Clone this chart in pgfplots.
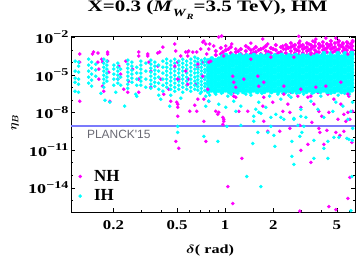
\documentclass[border=0pt]{standalone}
\usepackage{fontspec}
\setmainfont{Liberation Serif}
\newfontfamily\planckfont{Liberation Sans}
\usepackage{graphicx}
\usepackage{pgfplots}
\pgfplotsset{compat=1.18}
\definecolor{nh}{RGB}{255,0,255}
\definecolor{ih}{RGB}{0,255,255}
\definecolor{planck}{RGB}{122,122,252}
\definecolor{planckgray}{RGB}{105,105,115}
\newcommand{\tl}[1]{\scalebox{1.35}[1]{10\raisebox{0.42em}{\fontsize{10.5}{10}\selectfont #1}}}
\newcommand{\xl}[1]{\scalebox{1.25}[1]{#1}}
\begin{document}
\begin{tikzpicture}
\useasboundingbox (-71bp,-49bp) rectangle (289bp,212bp);
\begin{axis}[
  at={(0,0)}, anchor=south west,
  scale only axis, width=284bp, height=176bp,
  xmode=log, ymode=log,
  xmin=0.1085, xmax=6.5, ymin=1.17e-16, ymax=1.26e-2,
  xtick={0.2,0.5,1,2,5}, xticklabels={\xl{0.2},\xl{0.5},\xl{1},\xl{2},\xl{5}},
  minor xtick={0.3,0.4,0.6,0.7,0.8,0.9,3,4,6},
  ytick={1e-14,1e-11,1e-8,1e-5,1e-2},
  yticklabels={\tl{−14},\tl{−11},\tl{−8},\tl{−5},\tl{−2}},
  minor ytick={1e-16,1e-15,1e-13,1e-12,1e-10,1e-9,1e-7,1e-6,1e-4,1e-3},
  tick align=inside, major tick length=4bp, minor tick length=2.2bp,
  tick style={black, line width=0.5pt},
  axis line style={black, line width=0.8pt},
  ticklabel style={font=\bfseries\fontsize{13.5}{14}\selectfont},
  yticklabel style={xshift=1bp},
  xticklabel style={yshift=-5bp},
  title={\scalebox{1.32}[1]{X=0.3 (\textit{M}\raisebox{-0.3em}{\fontsize{11}{11}\selectfont\textit{W}\raisebox{-0.25em}{\fontsize{8}{8}\selectfont\textit{R}}}=3.5 TeV), HM}},
  title style={at={(axis description cs:0.481,1.105)}, anchor=base, font=\bfseries\fontsize{16}{18}\selectfont},
  xlabel={\scalebox{1.3}[1]{$\delta$( rad)}},
  xlabel style={at={(axis description cs:0.49,-0.216)}, anchor=center, font=\bfseries\boldmath\fontsize{12.5}{14}\selectfont},
  ylabel={$\eta_B$},
  ylabel style={at={(axis description cs:-0.197,0.51)}, anchor=center, font=\boldmath\fontsize{12.5}{14}\selectfont},
  legend image code/.code={\path[draw=none,fill=none] (0pt,-2pt) -- (17pt,2pt); \draw[#1] plot coordinates {(5pt,0pt)};},
  legend style={at={(axis description cs:0.014,0.25)}, anchor=north west, draw=none, fill=none, font=\bfseries\fontsize{17}{17}\selectfont, inner sep=0pt, row sep=3pt, nodes={inner sep=2pt}},
  legend cell align=left,
]
\addplot[planck, line width=2pt, forget plot] coordinates {(0.1085,8e-10)(6.5,8e-10)};
\node[font=\planckfont\fontsize{12}{12}\selectfont, text=planckgray] at (axis cs:0.216,1.8e-10) {PLANCK'15};
\addplot[only marks, mark=*, mark size=1.6pt, color=nh, mark options={draw=none, fill=nh}] coordinates {
(0.123,4.6e-4)(0.123,1.04e-4)(0.123,7.9e-8)
(0.148,4.6e-4)(0.150,6.6e-4)(0.160,5.5e-4)(0.160,1.04e-4)(0.162,2.9e-5)(0.162,4.6e-6)
(0.169,1.8e-4)(0.171,1.04e-4)(0.171,1.25e-6)(0.174,5e-7)
(0.184,4.6e-4)(0.184,1.25e-4)(0.187,1.65e-5)(0.190,7.9e-8)(0.184,6.6e-4)
(0.213,4.6e-6)(0.216,5e-5)(0.222,1.15e-5)(0.232,7.2e-7)(0.239,1.25e-4)(0.246,4.1e-7)(0.249,3.2e-6)(0.264,2.9e-5)
(0.288,6.6e-4)(0.288,3.2e-4)(0.288,4.6e-6)(0.288,4.1e-7)
(0.328,3.2e-4)(0.328,4.6e-4)(0.333,1.04e-4)(0.343,1.04e-6)(0.343,2e-5)
(0.379,5e-5)(0.379,5.5e-4)(0.390,6.6e-4)(0.396,4.6e-6)(0.408,1.65e-3)(0.413,2.9e-7)
(0.444,7.2e-7)(0.457,7.9e-8)
(0.484,2.9e-3)(0.491,7.9e-4)(0.505,1.04e-4)(0.513,4.6e-6)(0.505,2.6e-8)(0.505,5e-9)(0.498,6.6e-8)(0.505,4.6e-8)(0.528,3.2e-4)
(0.567,6.6e-4)(0.584,3.2e-4)(0.584,6.6e-4)(0.592,7.9e-4)(0.592,4.6e-6)(0.601,1.25e-8)
(0.628,6.6e-4)(0.665,6.6e-4)(0.675,4.1e-5)(0.655,1.8e-6)(0.675,1.15e-7)(0.665,1.25e-8)(0.646,3.8e-8)
(0.725,1.04e-4)(0.736,2e-9)(0.757,2.9e-3)(0.768,4.6e-4)(0.779,1.04e-4)(0.791,1.15e-3)(0.791,7.9e-8)
(0.757,5e-11)(0.491,5e-11)(0.513,1.4e-11)
(0.704,1.15e-3)(0.736,5e-3)(0.849,2e-3)(0.913,1.04e-2)
(0.725,4.1e-3)(0.802,2.9e-3)(0.953,1.25e-2)(1.01,2e-3)(1.10,2.9e-3)(1.167,1.15e-3)(1.449,3.4e-3)(1.512,1.15e-3)(1.722,7.2e-3)(1.851,2.9e-3)(2.298,2e-3)(2.471,1.65e-3)(2.894,1.2e-2)(2.936,5e-3)(3.344,2.9e-3)(3.542,5e-3)(3.699,7.2e-3)(4.272,8.6e-3)(4.591,2.9e-3)(4.934,8.6e-3)(5.079,4.1e-3)(5.458,2.9e-3)(5.866,3.4e-3)(6.28,4.1e-3)(6.28,2e-3)
(1.133,4.6e-6)(1.254,1.8e-6)(1.673,1.15e-5)(2.58,2.9e-5)(3.975,6.6e-6)(5.699,3.2e-6)
(0.736,1.15e-7)(0.874,1.25e-8)(0.913,1.04e-8)(0.968,4.1e-9)(0.981,2.9e-9)(1.086,4.6e-6)(1.117,1.04e-6)(1.133,4.1e-7)(1.167,1.65e-7)(1.348,1.8e-6)(1.625,1.25e-6)(1.673,2.6e-6)(1.722,3.2e-8)(1.747,1.65e-7)(1.99,6.6e-8)(2.298,1.25e-8)(2.471,4.6e-8)(2.58,4.1e-7)(2.852,2e-7)(2.979,2.6e-8)(3.296,1.65e-7)(3.594,4.6e-8)(3.862,1.25e-8)(4.03,5e-9)(4.46,1.04e-8)(5.079,2.9e-9)(5.303,4.6e-8)(5.537,7.2e-9)(5.866,1.04e-8)(6.037,2.9e-9)(6.28,1.25e-8)(3.807,4.1e-7)(4.397,2.9e-7)(4.794,1.15e-7)(5.303,7.2e-7)(5.951,2e-7)(2.471,2.6e-6)(2.138,5e-7)(1.49,3.2e-6)
(0.90,7.2e-9)(0.981,2e-9)(0.968,1.15e-9)(1.273,2.2e-12)(1.04,1.25e-14)(1.117,5.5e-16)(1.747,2e-9)(1.851,3.2e-10)(2.201,3.2e-10)(2.543,1.04e-8)(2.543,5.5e-10)(2.936,9.5e-10)(2.979,9.5e-12)(3.296,2.9e-11)(3.442,1.04e-12)(3.862,5.5e-10)(3.918,2.6e-10)(4.334,3.8e-10)(4.15,2.9e-11)(4.934,2.6e-10)(5.227,1.5e-10)(5.537,3.2e-10)(6.214,4.1e-11)(6.037,6.6e-14)(5.866,1.4e-15)(4.46,3.2e-16)(4.934,1.8e-16)(2.936,1.4e-16)
(1.219,1.25e-8)(1.387,1.25e-8)(5.699,2e-9)(3.49,1.65e-9)
};
\addlegendentry{NH}
\addplot[only marks, mark=*, mark size=1.9pt, color=nh, mark options={draw=none, fill=nh}, forget plot] coordinates {
(0.874,7.9e-4)(0.874,3.8e-4)(0.94,1.4e-3)(0.94,4.6e-4)(1.01,9.5e-4)(1.01,3.8e-4)(1.086,1.65e-3)(1.086,5.5e-4)(1.167,6.6e-4)(1.167,3.2e-4)(1.254,1.15e-3)(1.254,4.6e-4)(1.348,2e-3)(1.348,7.9e-4)(1.348,3.8e-4)(1.449,9.5e-4)(1.449,4.6e-4)(1.556,1.65e-3)(1.556,6.6e-4)(1.556,3.2e-4)(1.673,1.15e-3)(1.673,4.6e-4)(1.798,2e-3)(1.798,7.9e-4)(1.798,3.8e-4)(1.933,1.4e-3)(1.933,5.5e-4)(2.077,2.4e-3)(2.077,9.5e-4)(2.077,3.8e-4)(2.233,1.65e-3)(2.233,6.6e-4)
(0.97,6.6e-4)(1.05,1.15e-3)(1.21,7.9e-4)(1.40,1.4e-3)(1.50,5.5e-4)(1.62,9.5e-4)(1.74,1.4e-3)(1.87,6.6e-4)(2.0,1.15e-3)(2.15,5.5e-4)(2.32,1.15e-3)
(2.4,2.4e-3)(2.4,1.15e-3)(2.4,5.5e-4)(2.4,3.2e-4)(2.58,3.4e-3)(2.58,1.65e-3)(2.58,7.9e-4)(2.58,3.8e-4)(2.733,2.4e-3)(2.733,1.15e-3)(2.733,5.5e-4)(2.894,3.4e-3)(2.894,1.65e-3)(2.894,7.9e-4)(2.894,3.8e-4)(3.066,2.4e-3)(3.066,1.15e-3)(3.066,5.5e-4)(3.248,3.4e-3)(3.248,1.65e-3)(3.248,7.9e-4)(3.248,3.8e-4)(3.442,2.4e-3)(3.442,1.15e-3)(3.442,5.5e-4)(3.645,4.1e-3)(3.645,2e-3)(3.645,9.5e-4)(3.645,4.6e-4)(3.862,2.9e-3)(3.862,1.4e-3)(3.862,6.6e-4)(4.09,4.1e-3)(4.09,2e-3)(4.09,9.5e-4)(4.09,4.6e-4)(4.334,2.9e-3)(4.334,1.4e-3)(4.334,6.6e-4)(4.591,5e-3)(4.591,2.4e-3)(4.591,1.15e-3)(4.591,5.5e-4)(4.864,3.4e-3)(4.864,1.65e-3)(4.864,7.9e-4)(5.153,5e-3)(5.153,2.4e-3)(5.153,1.15e-3)(5.153,5.5e-4)(5.458,3.4e-3)(5.458,1.65e-3)(5.458,7.9e-4)(5.782,4.1e-3)(5.782,2e-3)(5.782,9.5e-4)(5.782,4.6e-4)(6.125,2.9e-3)(6.125,1.4e-3)(6.125,6.6e-4)(6.28,5e-3)(6.28,9.5e-4)(6.28,4.6e-4)
(2.49,1.4e-3)(2.66,2e-3)(2.81,9.5e-4)(2.98,2e-3)(3.15,1.4e-3)(3.34,9.5e-4)(3.54,1.65e-3)(3.75,6.6e-4)(3.97,2e-3)(4.21,1.15e-3)(4.46,2e-3)(4.73,1.4e-3)(5.0,9.5e-4)(5.3,2e-3)(5.62,1.15e-3)(5.95,1.65e-3)
};
\addplot[only marks, mark=*, mark size=1.6pt, color=ih, mark options={draw=none, fill=ih}] coordinates {
(0.115,1.25e-4)(0.115,2e-5)(0.115,5.5e-6)(0.115,2.6e-6)(0.115,5e-7)
(0.121,1.04e-4)(0.121,5e-5)(0.121,1.65e-5)(0.121,4.6e-6)(0.121,1.8e-6)(0.121,4.1e-7)
(0.140,1.8e-4)(0.140,6e-5)(0.140,2e-5)(0.140,6.6e-6)(0.140,2.2e-6)
(0.146,1.04e-4)(0.146,3.4e-5)(0.146,1.15e-5)(0.146,3.8e-6)(0.146,1.25e-6)
(0.155,7.2e-5)(0.155,2.4e-5)(0.155,7.9e-6)
(0.174,1.8e-4)(0.174,8.6e-5)(0.174,4.1e-5)(0.174,2e-5)(0.174,9.5e-6)(0.174,4.6e-6)(0.174,2.2e-6)(0.174,1.04e-6)
(0.182,1.25e-4)(0.182,6e-5)(0.182,2.9e-5)(0.182,1.4e-5)(0.182,6.6e-6)(0.182,3.2e-6)
(0.201,6e-5)(0.201,2.9e-5)(0.201,1.15e-5)(0.201,4.6e-6)(0.201,1.5e-6)
(0.213,8.6e-5)(0.213,4.1e-5)(0.213,2e-5)(0.213,9.5e-6)(0.213,4.6e-6)(0.213,2.2e-6)
(0.222,2.9e-5)(0.222,6.6e-6)(0.222,1.5e-6)
(0.246,1.5e-4)(0.246,7.2e-5)(0.246,3.4e-5)(0.246,1.65e-5)(0.246,7.9e-6)(0.246,3.8e-6)(0.246,1.8e-6)(0.246,8.6e-7)
(0.261,1.04e-4)(0.261,5e-5)(0.261,2.4e-5)(0.261,1.15e-5)(0.261,5.5e-6)(0.261,2.6e-6)
(0.280,4.1e-5)(0.280,1.4e-5)(0.280,4.6e-6)(0.280,1.5e-6)(0.280,2e-7)
(0.297,1.25e-4)(0.297,6e-5)(0.297,2.9e-5)(0.297,1.4e-5)(0.297,6.6e-6)(0.297,3.2e-6)(0.297,1.5e-6)
(0.319,8.6e-5)(0.319,2e-5)(0.319,4.6e-6)(0.319,1.04e-6)
(0.343,1.5e-4)(0.343,7.2e-5)(0.343,3.4e-5)(0.343,1.65e-5)(0.343,7.9e-6)(0.343,3.8e-6)(0.343,1.8e-6)(0.343,8.6e-7)
(0.363,1.04e-4)(0.363,5e-5)(0.363,2.4e-5)(0.363,1.15e-5)(0.363,5.5e-6)(0.363,2.6e-6)(0.363,1.25e-6)
(0.384,6e-5)(0.384,2e-5)(0.384,6.6e-6)(0.384,2.2e-6)(0.384,7.2e-7)(0.384,2.4e-7)
(0.408,1.25e-4)(0.408,4.1e-5)(0.408,1.4e-5)(0.408,4.6e-6)(0.408,1.5e-6)(0.408,5e-7)
(0.431,1.8e-4)(0.431,8.6e-5)(0.431,4.1e-5)(0.431,2e-5)(0.431,9.5e-6)(0.431,4.6e-6)(0.431,2.2e-6)(0.431,1.04e-6)
(0.457,1.25e-4)(0.457,6e-5)(0.457,2.9e-5)(0.457,1.4e-5)(0.457,6.6e-6)(0.457,3.2e-6)(0.457,1.5e-6)(0.457,7.2e-7)(0.457,2.4e-7)
(0.484,1.8e-4)(0.484,8.6e-5)(0.484,4.1e-5)(0.484,2e-5)(0.484,9.5e-6)(0.484,4.6e-6)(0.484,2.2e-6)(0.484,1.04e-6)(0.484,5e-7)
(0.513,1.25e-4)(0.513,6e-5)(0.513,2.9e-5)(0.513,1.4e-5)(0.513,6.6e-6)(0.513,3.2e-6)(0.513,1.5e-6)(0.513,7.2e-7)
(0.543,1.8e-4)(0.543,8.6e-5)(0.543,4.1e-5)(0.543,2e-5)(0.543,9.5e-6)(0.543,4.6e-6)(0.543,2.2e-6)(0.543,1.04e-6)(0.543,4.1e-7)
(0.575,1.25e-4)(0.575,6e-5)(0.575,2.9e-5)(0.575,1.4e-5)(0.575,6.6e-6)(0.575,3.2e-6)(0.575,1.5e-6)(0.575,7.2e-7)
(0.610,1.8e-4)(0.610,8.6e-5)(0.610,4.1e-5)(0.610,2e-5)(0.610,9.5e-6)(0.610,4.6e-6)(0.610,2.2e-6)(0.610,1.04e-6)(0.610,5e-7)
(0.646,2.6e-4)(0.646,1.25e-4)(0.646,6e-5)(0.646,2.9e-5)(0.646,1.4e-5)(0.646,6.6e-6)(0.646,3.2e-6)(0.646,1.5e-6)(0.646,7.2e-7)
(0.675,2e-4)(0.675,1.04e-4)(0.675,5.4e-5)(0.675,2.9e-5)(0.675,1.5e-5)(0.675,7.9e-6)(0.675,4.1e-6)(0.675,2.2e-6)(0.675,1.14e-6)(0.675,6e-7)
(0.710,1.45e-4)(0.710,7.6e-5)(0.710,4e-5)(0.710,2.1e-5)(0.710,1.1e-5)(0.710,5.8e-6)(0.710,3e-6)(0.710,1.6e-6)(0.710,8.3e-7)(0.710,4.4e-7)
(0.746,1.9e-4)(0.746,1.1e-4)(0.746,5.8e-5)(0.746,2.7e-5)(0.746,1.6e-5)(0.746,7.5e-6)(0.746,4.3e-6)(0.746,2.1e-6)(0.746,1.2e-6)(0.746,5.7e-7)
(0.177,9.5e-8)(0.190,6.6e-8)(0.235,3.2e-8)(0.450,3.2e-8)(0.505,7.9e-10)(0.505,2.6e-10)(0.736,1.25e-10)(0.167,3.4e-7)(0.207,4.1e-7)(0.276,2.9e-7)(0.396,1.15e-7)(0.528,1.4e-7)
(0.757,2e-7)(0.791,7.9e-8)(0.874,2.9e-7)(1.01,2.6e-8)(1.04,2e-7)(1.167,1.25e-8)(1.254,3.2e-8)(1.348,2.9e-7)(1.556,1.8e-8)(1.625,6.6e-8)(1.798,2.6e-8)(1.933,4.1e-9)(2.077,7.2e-9)(2.233,1.15e-7)(2.694,2.9e-9)(2.979,1.8e-8)(3.202,4.1e-9)(3.442,7.9e-8)(3.807,1.8e-8)(4.15,4.1e-9)(4.725,1.25e-8)(4.934,6.6e-8)(5.458,3.2e-8)(5.866,2.9e-9)(6.125,1.25e-8)(6.28,6.6e-8)(3.975,2e-7)(2.58,1.65e-7)(2.138,2.9e-7)(0.757,3.2e-8)(0.913,4.6e-8)(1.133,7.9e-8)
(0.70,3.4e-7)(0.80,2.4e-7)(0.95,3.4e-7)(1.09,2.9e-7)(1.2,3.4e-7)(1.45,2.4e-7)(1.7,3.4e-7)(1.9,2e-7)(2.3,3.4e-7)(2.5,2.4e-7)(2.8,3.4e-7)(3.1,2.9e-7)(3.5,3.4e-7)(4.6,3.4e-7)(5.1,2.4e-7)(5.6,3.4e-7)(6.0,2.9e-7)
(0.90,5e-11)(1.025,7.9e-10)(1.254,9.5e-10)(1.49,3.4e-11)(1.602,2.6e-10)(1.851,2.6e-10)(2.019,1.5e-10)(2.048,2e-11)(1.933,7.9e-10)(1.512,2e-9)(1.625,1.04e-8)(2.617,5e-11)(2.617,3.2e-12)(2.694,7.2e-13)(2.936,1.25e-10)(3.022,2.6e-10)(3.594,6e-11)(3.594,2.2e-12)(4.15,1.4e-11)(4.397,5e-11)(4.397,2.2e-12)(4.794,1.04e-10)(5.153,1.04e-10)(5.782,8.6e-11)(5.951,7.2e-11)(6.28,5.5e-10)(6.25,6e-11)(1.367,7.9e-14)(1.673,1.25e-14)(6.214,7.9e-14)(6.125,1.5e-16)(2.852,9.5e-10)(3.111,7.9e-10)(2.694,3.4e-9)(2.979,5e-9)(1.512,5e-9)(1.673,8.6e-9)(2.233,4.1e-9)(2.332,2.9e-9)
};
\addlegendentry{IH}
\addplot[only marks, mark=*, mark size=2.2pt, color=ih, mark options={draw=none, fill=ih}, forget plot] coordinates {
(0.785,1.4e-4)(0.785,8e-5)(0.785,3.8e-5)(0.785,2.2e-5)(0.785,1.05e-5)(0.785,6.1e-6)(0.785,2.9e-6)(0.785,1.7e-6)(0.785,8e-7)(0.785,4.6e-7)
(0.825,2e-4)(0.825,1.04e-4)(0.825,5.4e-5)(0.825,2.9e-5)(0.825,1.5e-5)(0.825,7.9e-6)(0.825,4.1e-6)(0.825,2.2e-6)(0.825,1.14e-6)(0.825,6e-7)
(0.868,1.45e-4)(0.868,7.6e-5)(0.868,4e-5)(0.868,2.1e-5)(0.868,1.1e-5)(0.868,5.8e-6)(0.868,3e-6)(0.868,1.6e-6)(0.868,8.3e-7)(0.868,4.4e-7)
(0.913,1.9e-4)(0.913,1.1e-4)(0.913,5.8e-5)(0.913,2.7e-5)(0.913,1.6e-5)(0.913,7.5e-6)(0.913,4.3e-6)(0.913,2.1e-6)(0.913,1.2e-6)(0.913,5.7e-7)
(0.960,2.9e-4)(0.960,1.4e-4)(0.960,8e-5)(0.960,3.8e-5)(0.960,2.2e-5)(0.960,1.05e-5)(0.960,6.1e-6)(0.960,2.9e-6)(0.960,1.7e-6)(0.960,8e-7)(0.960,4.6e-7)
(1.01,3.8e-4)(1.01,2e-4)(1.01,1.04e-4)(1.01,5.4e-5)(1.01,2.9e-5)(1.01,1.5e-5)(1.01,7.9e-6)(1.01,4.1e-6)(1.01,2.2e-6)(1.01,1.14e-6)(1.01,6e-7)
(1.062,2.75e-4)(1.062,1.45e-4)(1.062,7.6e-5)(1.062,4e-5)(1.062,2.1e-5)(1.062,1.1e-5)(1.062,5.8e-6)(1.062,3e-6)(1.062,1.6e-6)(1.062,8.3e-7)(1.062,4.4e-7)
(1.117,3.5e-4)(1.117,1.9e-4)(1.117,1.1e-4)(1.117,5.8e-5)(1.117,2.7e-5)(1.117,1.6e-5)(1.117,7.5e-6)(1.117,4.3e-6)(1.117,2.1e-6)(1.117,1.2e-6)(1.117,5.7e-7)
(1.175,2.9e-4)(1.175,1.4e-4)(1.175,8e-5)(1.175,3.8e-5)(1.175,2.2e-5)(1.175,1.05e-5)(1.175,6.1e-6)(1.175,2.9e-6)(1.175,1.7e-6)(1.175,8e-7)(1.175,4.6e-7)
(1.236,3.8e-4)(1.236,2e-4)(1.236,1.04e-4)(1.236,5.4e-5)(1.236,2.9e-5)(1.236,1.5e-5)(1.236,7.9e-6)(1.236,4.1e-6)(1.236,2.2e-6)(1.236,1.14e-6)(1.236,6e-7)
(1.30,2.75e-4)(1.30,1.45e-4)(1.30,7.6e-5)(1.30,4e-5)(1.30,2.1e-5)(1.30,1.1e-5)(1.30,5.8e-6)(1.30,3e-6)(1.30,1.6e-6)(1.30,8.3e-7)(1.30,4.4e-7)
(1.367,3.5e-4)(1.367,1.9e-4)(1.367,1.1e-4)(1.367,5.8e-5)(1.367,2.7e-5)(1.367,1.6e-5)(1.367,7.5e-6)(1.367,4.3e-6)(1.367,2.1e-6)(1.367,1.2e-6)(1.367,5.7e-7)
(1.438,2.9e-4)(1.438,1.4e-4)(1.438,8e-5)(1.438,3.8e-5)(1.438,2.2e-5)(1.438,1.05e-5)(1.438,6.1e-6)(1.438,2.9e-6)(1.438,1.7e-6)(1.438,8e-7)(1.438,4.6e-7)
(1.512,3.8e-4)(1.512,2e-4)(1.512,1.04e-4)(1.512,5.4e-5)(1.512,2.9e-5)(1.512,1.5e-5)(1.512,7.9e-6)(1.512,4.1e-6)(1.512,2.2e-6)(1.512,1.14e-6)(1.512,6e-7)
(1.591,2.75e-4)(1.591,1.45e-4)(1.591,7.6e-5)(1.591,4e-5)(1.591,2.1e-5)(1.591,1.1e-5)(1.591,5.8e-6)(1.591,3e-6)(1.591,1.6e-6)(1.591,8.3e-7)(1.591,4.4e-7)
(1.673,3.5e-4)(1.673,1.9e-4)(1.673,1.1e-4)(1.673,5.8e-5)(1.673,2.7e-5)(1.673,1.6e-5)(1.673,7.5e-6)(1.673,4.3e-6)(1.673,2.1e-6)(1.673,1.2e-6)(1.673,5.7e-7)
(1.76,2.9e-4)(1.76,1.4e-4)(1.76,8e-5)(1.76,3.8e-5)(1.76,2.2e-5)(1.76,1.05e-5)(1.76,6.1e-6)(1.76,2.9e-6)(1.76,1.7e-6)(1.76,8e-7)(1.76,4.6e-7)
(1.851,3.8e-4)(1.851,2e-4)(1.851,1.04e-4)(1.851,5.4e-5)(1.851,2.9e-5)(1.851,1.5e-5)(1.851,7.9e-6)(1.851,4.1e-6)(1.851,2.2e-6)(1.851,1.14e-6)(1.851,6e-7)
(1.947,2.75e-4)(1.947,1.45e-4)(1.947,7.6e-5)(1.947,4e-5)(1.947,2.1e-5)(1.947,1.1e-5)(1.947,5.8e-6)(1.947,3e-6)(1.947,1.6e-6)(1.947,8.3e-7)(1.947,4.4e-7)
(2.047,3.5e-4)(2.047,1.9e-4)(2.047,1.1e-4)(2.047,5.8e-5)(2.047,2.7e-5)(2.047,1.6e-5)(2.047,7.5e-6)(2.047,4.3e-6)(2.047,2.1e-6)(2.047,1.2e-6)(2.047,5.7e-7)
(2.153,2.9e-4)(2.153,1.4e-4)(2.153,8e-5)(2.153,3.8e-5)(2.153,2.2e-5)(2.153,1.05e-5)(2.153,6.1e-6)(2.153,2.9e-6)(2.153,1.7e-6)(2.153,8e-7)(2.153,4.6e-7)
(2.265,3.8e-4)(2.265,2e-4)(2.265,1.04e-4)(2.265,5.4e-5)(2.265,2.9e-5)(2.265,1.5e-5)(2.265,7.9e-6)(2.265,4.1e-6)(2.265,2.2e-6)(2.265,1.14e-6)(2.265,6e-7)
(2.382,2.75e-4)(2.382,1.45e-4)(2.382,7.6e-5)(2.382,4e-5)(2.382,2.1e-5)(2.382,1.1e-5)(2.382,5.8e-6)(2.382,3e-6)(2.382,1.6e-6)(2.382,8.3e-7)(2.382,4.4e-7)
(2.506,3.5e-4)(2.506,1.9e-4)(2.506,1.1e-4)(2.506,5.8e-5)(2.506,2.7e-5)(2.506,1.6e-5)(2.506,7.5e-6)(2.506,4.3e-6)(2.506,2.1e-6)(2.506,1.2e-6)(2.506,5.7e-7)
(2.635,2.9e-4)(2.635,1.4e-4)(2.635,8e-5)(2.635,3.8e-5)(2.635,2.2e-5)(2.635,1.05e-5)(2.635,6.1e-6)(2.635,2.9e-6)(2.635,1.7e-6)(2.635,8e-7)(2.635,4.6e-7)
(2.772,3.8e-4)(2.772,2e-4)(2.772,1.04e-4)(2.772,5.4e-5)(2.772,2.9e-5)(2.772,1.5e-5)(2.772,7.9e-6)(2.772,4.1e-6)(2.772,2.2e-6)(2.772,1.14e-6)(2.772,6e-7)
(2.915,2.75e-4)(2.915,1.45e-4)(2.915,7.6e-5)(2.915,4e-5)(2.915,2.1e-5)(2.915,1.1e-5)(2.915,5.8e-6)(2.915,3e-6)(2.915,1.6e-6)(2.915,8.3e-7)(2.915,4.4e-7)
(3.066,3.5e-4)(3.066,1.9e-4)(3.066,1.1e-4)(3.066,5.8e-5)(3.066,2.7e-5)(3.066,1.6e-5)(3.066,7.5e-6)(3.066,4.3e-6)(3.066,2.1e-6)(3.066,1.2e-6)(3.066,5.7e-7)
(3.225,2.9e-4)(3.225,1.4e-4)(3.225,8e-5)(3.225,3.8e-5)(3.225,2.2e-5)(3.225,1.05e-5)(3.225,6.1e-6)(3.225,2.9e-6)(3.225,1.7e-6)(3.225,8e-7)(3.225,4.6e-7)
(3.392,3.8e-4)(3.392,2e-4)(3.392,1.04e-4)(3.392,5.4e-5)(3.392,2.9e-5)(3.392,1.5e-5)(3.392,7.9e-6)(3.392,4.1e-6)(3.392,2.2e-6)(3.392,1.14e-6)(3.392,6e-7)
(3.567,2.75e-4)(3.567,1.45e-4)(3.567,7.6e-5)(3.567,4e-5)(3.567,2.1e-5)(3.567,1.1e-5)(3.567,5.8e-6)(3.567,3e-6)(3.567,1.6e-6)(3.567,8.3e-7)(3.567,4.4e-7)
(3.752,3.5e-4)(3.752,1.9e-4)(3.752,1.1e-4)(3.752,5.8e-5)(3.752,2.7e-5)(3.752,1.6e-5)(3.752,7.5e-6)(3.752,4.3e-6)(3.752,2.1e-6)(3.752,1.2e-6)(3.752,5.7e-7)
(3.946,2.9e-4)(3.946,1.4e-4)(3.946,8e-5)(3.946,3.8e-5)(3.946,2.2e-5)(3.946,1.05e-5)(3.946,6.1e-6)(3.946,2.9e-6)(3.946,1.7e-6)(3.946,8e-7)(3.946,4.6e-7)
(4.15,5.2e-4)(4.15,3.8e-4)(4.15,2e-4)(4.15,1.04e-4)(4.15,5.4e-5)(4.15,2.9e-5)(4.15,1.5e-5)(4.15,7.9e-6)(4.15,4.1e-6)(4.15,2.2e-6)(4.15,1.14e-6)(4.15,6e-7)
(4.365,2.75e-4)(4.365,1.45e-4)(4.365,7.6e-5)(4.365,4e-5)(4.365,2.1e-5)(4.365,1.1e-5)(4.365,5.8e-6)(4.365,3e-6)(4.365,1.6e-6)(4.365,8.3e-7)(4.365,4.4e-7)
(4.591,5e-4)(4.591,3.5e-4)(4.591,1.9e-4)(4.591,1.1e-4)(4.591,5.8e-5)(4.591,2.7e-5)(4.591,1.6e-5)(4.591,7.5e-6)(4.591,4.3e-6)(4.591,2.1e-6)(4.591,1.2e-6)(4.591,5.7e-7)
(4.828,2.9e-4)(4.828,1.4e-4)(4.828,8e-5)(4.828,3.8e-5)(4.828,2.2e-5)(4.828,1.05e-5)(4.828,6.1e-6)(4.828,2.9e-6)(4.828,1.7e-6)(4.828,8e-7)(4.828,4.6e-7)
(5.078,5.2e-4)(5.078,3.8e-4)(5.078,2e-4)(5.078,1.04e-4)(5.078,5.4e-5)(5.078,2.9e-5)(5.078,1.5e-5)(5.078,7.9e-6)(5.078,4.1e-6)(5.078,2.2e-6)(5.078,1.14e-6)(5.078,6e-7)
(5.341,2.75e-4)(5.341,1.45e-4)(5.341,7.6e-5)(5.341,4e-5)(5.341,2.1e-5)(5.341,1.1e-5)(5.341,5.8e-6)(5.341,3e-6)(5.341,1.6e-6)(5.341,8.3e-7)(5.341,4.4e-7)
(5.617,5e-4)(5.617,3.5e-4)(5.617,1.9e-4)(5.617,1.1e-4)(5.617,5.8e-5)(5.617,2.7e-5)(5.617,1.6e-5)(5.617,7.5e-6)(5.617,4.3e-6)(5.617,2.1e-6)(5.617,1.2e-6)(5.617,5.7e-7)
(5.908,2.9e-4)(5.908,1.4e-4)(5.908,8e-5)(5.908,3.8e-5)(5.908,2.2e-5)(5.908,1.05e-5)(5.908,6.1e-6)(5.908,2.9e-6)(5.908,1.7e-6)(5.908,8e-7)(5.908,4.6e-7)
(6.214,5.5e-4)(6.214,3.8e-4)(6.214,2e-4)(6.214,1.04e-4)(6.214,5.4e-5)(6.214,2.9e-5)(6.214,1.5e-5)(6.214,7.9e-6)(6.214,4.1e-6)(6.214,2.2e-6)(6.214,1.14e-6)(6.214,6e-7)
};
\addplot[only marks, mark=*, mark size=1.6pt, color=nh, mark options={draw=none, fill=nh}, forget plot] coordinates {
(1.117,7.9e-6)(1.133,2.6e-6)(1.167,1.04e-6)(1.133,2e-7)(1.31,4.6e-6)(1.602,7.9e-6)(1.625,1.25e-6)(1.747,2.6e-6)(2.332,1.25e-6)(2.332,2.9e-7)(2.979,7.2e-7)(3.442,2e-7)(3.699,1.04e-6)(4.272,1.25e-6)(5.303,2.6e-6)(5.866,2.9e-7)
(0.813,1.25e-4)(0.981,3.2e-4)(1.449,1.8e-4)(1.933,2.6e-4)(2.694,2.6e-4)(3.442,4.6e-4)(4.725,6.6e-4)(5.866,4.6e-4)
(0.484,5e-5)(0.505,4.6e-6)(0.567,2e-5)(0.584,1.8e-6)(0.675,7.2e-5)(0.725,7.9e-6)(0.779,7.2e-7)(0.791,1.04e-4)
};
\end{axis}
\end{tikzpicture}
\end{document}
